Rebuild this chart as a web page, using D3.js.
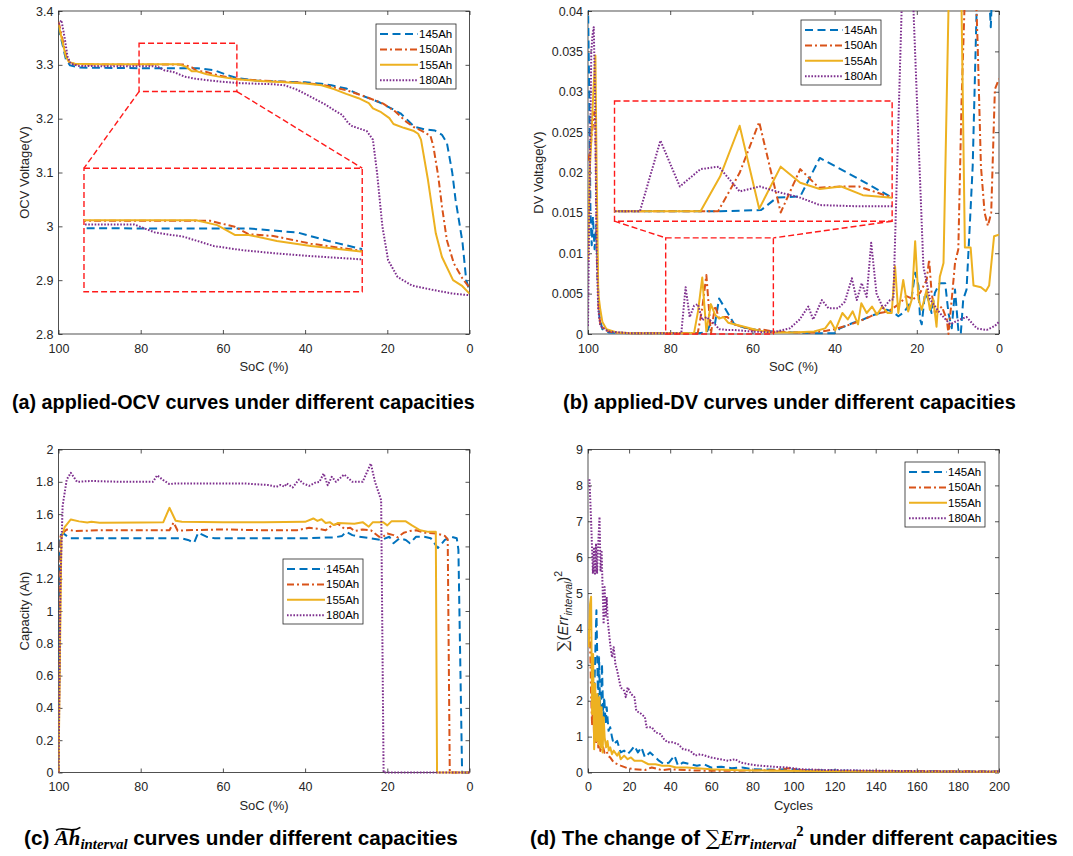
<!DOCTYPE html>
<html>
<head>
<meta charset="utf-8">
<script src="https://cdn.jsdelivr.net/npm/d3@7"></script>
<style>
  body { margin: 0; background: #fff; }
  svg text { font-family: "Liberation Sans", Arial, sans-serif; }
</style>
</head>
<body>
<svg id="fig" width="1073" height="856"></svg>
<script>
// ---- data ----
const capacities = ["145Ah", "150Ah", "155Ah", "180Ah"];

const socTicks = [100, 80, 60, 40, 20, 0];
const ocvTicks = [2.8, 2.9, 3, 3.1, 3.2, 3.3, 3.4];
const dvTicks = [0, 0.005, 0.01, 0.015, 0.02, 0.025, 0.03, 0.035, 0.04];
const ahTicks = [0, 0.2, 0.4, 0.6, 0.8, 1, 1.2, 1.4, 1.6, 1.8, 2];
const cycleTicks = [0, 20, 40, 60, 80, 100, 120, 140, 160, 180, 200];
const errTicks = [0, 1, 2, 3, 4, 5, 6, 7, 8, 9];

// (a) OCV, [SoC %, V]
const ocv145 = [[100,3.37],[99.4,3.35],[98.8,3.33],[98.2,3.31],[97.2,3.299],[95,3.295],[90,3.2945],[80,3.2938],[70,3.2936],[66.3,3.2936],[62.1,3.29],[59.5,3.2826],[56.5,3.2751],[52,3.271],[45,3.2685],[40,3.2675],[36,3.265],[33.6,3.262],[30,3.256],[26.9,3.245],[21.8,3.23],[16.8,3.21],[13.4,3.185],[10.9,3.18],[8.4,3.178],[6.7,3.17],[5.5,3.155],[4.2,3.1],[3.4,3.05],[1.7,2.97],[0.8,2.9],[0,2.881]];
const ocv150 = [[100,3.38],[99.4,3.36],[98.8,3.34],[98.2,3.318],[97.4,3.305],[96,3.301],[90,3.3005],[80,3.3004],[69.6,3.3004],[67.5,3.2951],[66.3,3.2885],[64.2,3.287],[61,3.2802],[56.5,3.2736],[50,3.2705],[45,3.2685],[40,3.2665],[35,3.2615],[30,3.253],[25,3.24],[21,3.228],[18,3.213],[15.5,3.195],[13.5,3.184],[11.5,3.177],[9.5,3.168],[8.8,3.149],[7.6,3.093],[6.7,3.037],[5.5,2.974],[3.8,2.931],[1.7,2.903],[0,2.886]];
const ocv155 = [[100,3.375],[99.4,3.355],[98.8,3.335],[98.2,3.315],[97.4,3.305],[96,3.302],[90,3.301],[80,3.301],[70.8,3.301],[69,3.2966],[67.5,3.2879],[66.3,3.2879],[63.9,3.2826],[61,3.2781],[56.5,3.273],[50,3.2695],[45,3.2675],[40,3.2655],[36,3.262],[33,3.255],[30,3.246],[27,3.238],[24.5,3.229],[23.5,3.219],[21.5,3.212],[19.5,3.201],[18.5,3.19],[16,3.183],[13.5,3.177],[12.5,3.172],[11.8,3.161],[10.1,3.086],[8.2,2.987],[6.7,2.943],[4,2.9],[1.9,2.89],[0,2.875]];
const ocv180 = [[100,3.375],[99.3,3.383],[98.5,3.35],[97.8,3.315],[97,3.302],[95,3.298],[90,3.2975],[80,3.2972],[76.1,3.2972],[74.3,3.29],[71.9,3.2864],[69.3,3.2781],[66.9,3.2745],[63.9,3.2715],[61,3.2692],[56.5,3.2662],[52,3.265],[48,3.264],[45,3.262],[42,3.254],[40,3.246],[37.5,3.236],[35,3.226],[33,3.216],[31,3.207],[29.5,3.192],[28.5,3.186],[25,3.177],[23.5,3.161],[22.5,3.1],[21.2,3.0],[19.8,2.937],[17.5,2.906],[14,2.89],[9,2.882],[4,2.875],[0,2.872]];

// (b) DV, [SoC %, V]
const dv145 = [[100,0.041],[99.7,0.03],[99.4,0.015],[99.1,0.011],[98.8,0.0145],[98.4,0.0105],[98,0.0135],[97.6,0.006],[97.2,0.002],[96.5,0.0006],[95,0.0002],[90,0.0001],[73.2,0.0001],[71.1,0.0002],[70.3,0.0012],[69.1,0.0013],[68.1,0.0044],[66.1,0.0027],[64.4,0.0012],[62,0.0008],[59,0.0005],[55,0.0003],[50,0.0002],[45,0.0001],[40,0.0001],[38.7,0.0007],[35.4,0.0014],[33,0.0018],[31.4,0.0022],[29,0.0026],[27.3,0.003],[26,0.0028],[24.5,0.0022],[23.1,0.0027],[21.4,0.004],[20.4,0.0076],[19.6,0.006],[19.2,0.0018],[18.8,0.0012],[18,0.0051],[17.2,0.0043],[16.4,0.0026],[15.6,0.0051],[14.4,0.0063],[13.1,0.0063],[12.3,0.0026],[11.5,0.0007],[10.7,0.0055],[9.9,0.0005],[9.3,0],[8.7,0.0043],[7.9,0.0055],[7.2,0.0125],[6.4,0.0208],[5.8,0.033],[5.2,0.045],[3,0.05],[2.4,0.042],[2,0.038],[1.5,0.045],[0,0.05]];
const dv150 = [[100,0.0215],[99.5,0.0225],[99,0.025],[98.5,0.0275],[98.2,0.026],[97.8,0.01],[97.4,0.003],[97,0.0012],[96,0.0005],[94,0.0002],[90,0.0001],[73.3,0.0001],[72.2,0.0032],[71.2,0.0073],[70.1,0],[69.1,0.0035],[68.15,0.002],[67,0.0021],[66.1,0.0021],[64.4,0.0012],[62,0.0008],[60,0.0005],[58,0.0006],[55,0.0003],[50,0.0002],[45,0.0002],[42,0.0004],[40,0.0006],[38,0.0009],[36,0.0012],[34,0.0016],[32,0.002],[30,0.0025],[28,0.0027],[26.3,0.003],[24.1,0.0038],[22.5,0.0047],[20.9,0.0043],[19.2,0.0051],[17.6,0.0067],[17,0.0092],[16.4,0.0051],[15.6,0.0026],[13.9,0.0034],[12.7,0.0018],[12.3,0],[11.5,0.0043],[10.7,0.0088],[9.9,0.0105],[9.1,0.029],[8.3,0.042],[7,0.055],[5.6,0.042],[5.2,0.036],[4.4,0.0208],[3.5,0.015],[2.7,0.0134],[1.9,0.015],[1,0.0303],[0,0.0316]];
const dv155 = [[100,0.009],[99.6,0.02],[99.2,0.024],[98.7,0.03],[98.2,0.0345],[97.9,0.02],[97.5,0.005],[97,0.003],[96.5,0.0015],[95.5,0.0006],[93,0.0002],[90,0.0001],[74.2,0.0001],[73.2,0.0029],[72.2,0.007],[71.2,0.0003],[70.1,0.0037],[69.1,0.0024],[68.1,0.0019],[67,0.0021],[65.9,0.0014],[64.4,0.0012],[62,0.0009],[59,0.0005],[56,0.0002],[50,0.0002],[45,0.0003],[42.3,0.0007],[41,0.0016],[39.8,0.0005],[38.1,0.0026],[36.8,0.0018],[35.6,0.0028],[34.3,0.0012],[33.5,0.0038],[32.2,0.0026],[30.9,0.0034],[29.7,0.0024],[28.4,0.0034],[27.1,0.0026],[26.1,0.0026],[25.3,0.0084],[24.5,0.0026],[23.3,0.0067],[22.1,0.0028],[21.2,0.0043],[20.4,0.0115],[19.6,0.0043],[18.8,0.003],[17.6,0.0055],[16.8,0.003],[16,0.0043],[15.2,0.0009],[14.4,0.0071],[13.5,0.0088],[12.3,0.04],[10.7,0.07],[9.1,0.04],[8.3,0.0107],[6.9,0.0107],[6.2,0.006],[4.4,0.0058],[3.2,0.0053],[2.4,0.006],[1.2,0.0121],[0,0.0123]];
const dv180 = [[100,0.001],[99.8,0.01],[99.5,0.022],[99.2,0.035],[98.9,0.037],[98.6,0.038],[98.3,0.03],[97.9,0.01],[97.5,0.003],[97,0.001],[95,0.0003],[90,0.0001],[77.3,0.0001],[76.25,0.0058],[75.26,0.0021],[74.2,0.0035],[73.27,0.0037],[72.2,0.0017],[71.17,0.0021],[70.1,0.0016],[69.1,0.0012],[68.1,0.0006],[66.1,0.0005],[64.4,0.0005],[60,0.0003],[55,0.0002],[50.9,0.0007],[48.5,0.0018],[46.4,0.0034],[45.2,0.0018],[43.1,0.0042],[41.5,0.0032],[39.1,0.0032],[37.5,0.004],[35.8,0.0069],[34.6,0.0042],[33.4,0.0063],[32.2,0.0046],[31.1,0.0113],[29.8,0.005],[28.2,0.0032],[26.5,0.0042],[25.7,0.0043],[23.7,0.04],[22,0.07],[20.8,0.04],[18.4,0.0084],[16.8,0.0043],[14.4,0.0026],[11.9,0.0012],[9.5,0.0018],[7.9,0.0021],[5.4,0.0007],[3,0.0005],[1,0.001],[0,0.0015]];

// (c) Ah interval, [SoC %, Ah]
const ah145 = [[100,0],[99.6,1.47],[98.8,1.48],[97.5,1.455],[97,1.45],[90,1.45],[80,1.45],[70,1.45],[68.5,1.44],[67,1.423],[66,1.485],[64,1.46],[62,1.45],[50,1.45],[40,1.45],[35,1.455],[33,1.455],[31,1.465],[30,1.49],[28.5,1.47],[27,1.46],[24,1.45],[21.5,1.44],[19.5,1.46],[18.5,1.42],[17,1.45],[15.5,1.44],[14.5,1.42],[13,1.46],[11,1.46],[9.4,1.45],[7.7,1.39],[6,1.44],[4.4,1.46],[3.1,1.45],[2.7,1.38],[1.8,0],[0,0]];
const ah150 = [[100,0],[99.5,1.47],[98,1.505],[96,1.495],[90,1.5],[80,1.5],[73,1.5],[72,1.548],[71,1.497],[69,1.5],[60,1.505],[50,1.5],[42,1.5],[39,1.515],[37,1.51],[35,1.5],[33.5,1.53],[32,1.54],[30.5,1.51],[29,1.515],[28,1.495],[26,1.505],[24,1.5],[22,1.46],[21,1.46],[20,1.48],[18.5,1.47],[17.5,1.456],[16,1.485],[14.5,1.495],[13,1.5],[11,1.485],[8,1.48],[6,1.465],[5.3,1.443],[4.8,0],[0,0]];
const ah155 = [[100,0],[99.3,1.45],[98.5,1.52],[97,1.567],[95,1.555],[93,1.548],[92,1.552],[90,1.547],[80,1.548],[74.5,1.55],[73,1.639],[71.5,1.559],[70,1.552],[60,1.55],[50,1.55],[40,1.552],[38,1.573],[37,1.558],[36,1.568],[35,1.545],[34,1.55],[33,1.532],[32,1.545],[28,1.54],[26,1.55],[24.5,1.522],[23.5,1.55],[21,1.55],[20,1.53],[19,1.555],[15.5,1.555],[14,1.53],[12,1.5],[10,1.49],[8.2,1.49],[7.9,0],[0,0]];
const ah180 = [[100,0],[99.5,1.2],[99,1.65],[98,1.814],[97,1.856],[95.5,1.8],[92,1.805],[85,1.8],[77,1.8],[76,1.84],[74.5,1.81],[73,1.786],[71.5,1.79],[55,1.79],[49,1.78],[47,1.769],[46,1.78],[45,1.77],[44.5,1.79],[43,1.765],[41.5,1.814],[40.5,1.79],[39,1.775],[37.5,1.795],[36.5,1.8],[35.5,1.851],[34.5,1.779],[33.5,1.831],[32.5,1.8],[30.5,1.845],[28.5,1.8],[26,1.8],[24,1.913],[23,1.8],[21.5,1.687],[20.9,0],[0,0]];

// (d) sum of squared interval errors, [cycle, value]
const err145 = [[2.5,2.3],[3.2,2.56],[4.1,4.52],[4.9,1.91],[5.4,3.21],[6.1,1.16],[6.8,3.03],[7.4,1.54],[7.9,2.1],[8.6,1.35],[9.1,1.82],[10,1.16],[10.8,1.26],[11.7,0.98],[12.5,0.79],[14.2,0.88],[15.9,0.56],[17.6,0.61],[19.3,0.51],[20.9,0.61],[22.6,0.74],[24.3,0.56],[26,0.7],[27.7,0.42],[30.2,0.56],[31.9,0.47],[34.5,0.33],[37,0.23],[39.5,0.28],[42.1,0.47],[43.8,0.19],[46.3,0.28],[49.7,0.23],[53,0.19],[56.4,0.23],[59.8,0.14],[64.9,0.16],[69.9,0.12],[75,0.14],[80,0.09],[90,0.08],[98.6,0.09],[107,0.065],[124,0.05],[141,0.04],[160,0.035],[175,0.03],[200,0.03]];
const err150 = [[0,3.54],[0.5,3.8],[1,3.7],[1.5,2.2],[2,1.3],[2.5,2],[3,0.9],[3.5,1.6],[4,0.8],[4.5,1.3],[5,0.7],[5.5,1.1],[6,0.6],[7,0.8],[8,0.55],[9,0.6],[10,0.45],[10.8,0.42],[12.5,0.28],[15.9,0.19],[19.3,0.12],[22.6,0.09],[27.7,0.07],[31,0.14],[36,0.065],[39.5,0.09],[48,0.065],[56.4,0.05],[73.3,0.05],[90.2,0.065],[97.8,0.12],[103.7,0.065],[124,0.04],[150,0.035],[200,0.03]];
const err155 = [[0.3,3.49],[1,4.7],[1.5,4.9],[2,1.63],[2.5,3.3],[3,0.65],[3.5,2.47],[4.1,0.88],[4.6,2.19],[5.1,0.79],[5.6,2.1],[6.1,0.7],[6.6,1.82],[7.1,0.56],[7.6,1.54],[8.1,0.98],[8.8,0.7],[9.5,0.88],[10.1,0.61],[10.8,0.7],[11.7,0.51],[12.5,0.61],[14.2,0.47],[15,0.56],[15.9,0.37],[17.6,0.47],[19.3,0.37],[20.9,0.42],[22.6,0.33],[26,0.33],[29.4,0.23],[32.8,0.23],[36.1,0.19],[39.5,0.19],[42.9,0.14],[48,0.14],[53,0.12],[59.8,0.09],[66.6,0.08],[73.3,0.065],[90.2,0.05],[107,0.04],[141,0.03],[200,0.02]];
const err180 = [[0.7,8.17],[1.5,7.03],[2.4,5.54],[2.9,6.28],[3.4,5.54],[3.9,6.38],[4.4,5.54],[4.9,6.28],[5.6,7.12],[6.1,5.63],[6.6,6.19],[7.1,5.17],[7.6,4.14],[8.1,5.17],[8.6,4.33],[9.1,4.89],[9.6,4.24],[10.1,3.96],[10.8,3.58],[11.7,3.21],[12.5,3.49],[13.3,3.03],[14.2,2.84],[15.9,2.37],[17.6,2.28],[18.4,2.1],[19.3,2.37],[20.9,2.19],[22.6,2.1],[23.5,1.72],[26,1.63],[27.7,1.54],[28.5,1.26],[31.1,1.26],[32.8,1.12],[35.3,1.07],[37,0.93],[38.7,0.84],[41.2,0.84],[43.8,0.79],[46.3,0.65],[49.7,0.61],[52.2,0.47],[54.7,0.51],[59.8,0.42],[64,0.37],[68.2,0.33],[71.6,0.37],[74.2,0.28],[78.4,0.23],[81.8,0.2],[90.2,0.16],[97,0.14],[103.7,0.09],[115.5,0.07],[124,0.065],[141,0.05],[157.8,0.04],[174.7,0.03],[200,0.03]];

// zoom insets: [x from, x to, y low, y high] in data units
const ocvZoomWindow = [80.4, 56.6, 3.2504, 3.34];
const ocvZoomFrame = [93.8, 26.1, 2.8784, 3.108];
const ocvZoomRange = [80.4, 56.6, 3.2376, 3.347];
const dvZoomWindow = [81.1, 54.9, 0, 0.0119];
const dvZoomFrame = [93.55, 26.0, 0.01397, 0.02886];
const dvZoomRange = [78.6, 64.4, -0.0007, 0.009];

// ---- styles ----
const colours = { "145Ah": "#0072BD", "150Ah": "#D95319", "155Ah": "#EDB120", "180Ah": "#7E2F8E" };
const dashes = { "145Ah": "8,4.5", "150Ah": "7,3,2,3", "155Ah": null, "180Ah": "1.6,1.6" };
const lineWidth = 2;
const axisColour = "#262626";
const serif = "'Liberation Serif', 'DejaVu Serif', serif";

const svg = d3.select("#fig");
const defs = svg.append("defs");

const line = (x, y) => d3.line().x(d => x(d[0])).y(d => y(d[1]));

const drawSeries = (g, x, y, list, clipId) => {
  list.forEach((data, i) => {
    const name = capacities[i];
    g.append("path")
      .datum(data)
      .attr("clip-path", `url(#${clipId})`)
      .attr("fill", "none")
      .attr("stroke", colours[name])
      .attr("stroke-width", lineWidth)
      .attr("stroke-dasharray", dashes[name])
      .attr("stroke-linejoin", "round")
      .attr("d", line(x, y));
  });
};

const styleAxis = sel => {
  sel.select(".domain").remove();
  sel.selectAll("line").attr("stroke", axisColour).attr("stroke-width", 0.8);
  sel.selectAll("text")
    .attr("fill", axisColour)
    .attr("font-size", 12.5)
    .attr("font-family", "'Liberation Sans', Arial, sans-serif");
};

const makePanel = p => {
  const x = d3.scaleLinear().domain(p.xDomain).range([p.left, p.right]);
  const y = d3.scaleLinear().domain(p.yDomain).range([p.bottom, p.top]);
  const g = svg.append("g").attr("class", `panel-${p.id}`);

  defs.append("clipPath").attr("id", `clip-${p.id}`)
    .append("rect")
    .attr("x", p.left).attr("y", p.top - 1)
    .attr("width", p.right - p.left).attr("height", p.bottom - p.top + 3);

  const fmt = d => String(d);
  g.append("g").attr("transform", `translate(0,${p.bottom})`)
    .call(d3.axisBottom(x).tickValues(p.xTicks).tickSizeInner(-4).tickSizeOuter(0).tickPadding(10).tickFormat(fmt))
    .call(styleAxis);
  g.append("g").attr("transform", `translate(0,${p.top})`)
    .call(d3.axisTop(x).tickValues(p.xTicks).tickSizeInner(-4).tickSizeOuter(0).tickFormat(""))
    .call(styleAxis);
  g.append("g").attr("transform", `translate(${p.left},0)`)
    .call(d3.axisLeft(y).tickValues(p.yTicks).tickSizeInner(-4).tickSizeOuter(0).tickPadding(5).tickFormat(fmt))
    .call(styleAxis);
  g.append("g").attr("transform", `translate(${p.right},0)`)
    .call(d3.axisRight(y).tickValues(p.yTicks).tickSizeInner(-4).tickSizeOuter(0).tickFormat(""))
    .call(styleAxis);

  g.append("rect")
    .attr("x", p.left).attr("y", p.top)
    .attr("width", p.right - p.left).attr("height", p.bottom - p.top)
    .attr("fill", "none").attr("stroke", axisColour).attr("stroke-width", 0.8);

  g.append("text")
    .attr("x", (p.left + p.right) / 2).attr("y", p.bottom + 37)
    .attr("text-anchor", "middle").attr("font-size", 13).attr("fill", axisColour)
    .text(p.xLabel);

  if (p.yLabel) {
    g.append("text")
      .attr("transform", `translate(${p.yLabelX},${(p.top + p.bottom) / 2}) rotate(-90)`)
      .attr("text-anchor", "middle").attr("font-size", 13).attr("fill", axisColour)
      .text(p.yLabel);
  }

  drawSeries(g, x, y, p.series, `clip-${p.id}`);
  return { g, x, y };
};

const drawLegend = (g, lx, ly) => {
  const lg = g.append("g").attr("class", "legend");
  lg.append("rect")
    .attr("x", lx).attr("y", ly).attr("width", 80).attr("height", 65)
    .attr("fill", "#fff").attr("stroke", axisColour).attr("stroke-width", 0.8);
  capacities.forEach((name, i) => {
    const cy = ly + 10 + i * 15.4;
    lg.append("line")
      .attr("x1", lx + 4).attr("x2", lx + 42).attr("y1", cy).attr("y2", cy)
      .attr("stroke", colours[name]).attr("stroke-width", lineWidth)
      .attr("stroke-dasharray", dashes[name]);
    lg.append("text")
      .attr("x", lx + 43).attr("y", cy + 4)
      .attr("font-size", 11.5).attr("fill", "#000")
      .text(name);
  });
};

const redDash = sel => sel.attr("fill", "none").attr("stroke", "#ff1a1a")
  .attr("stroke-width", 1.4).attr("stroke-dasharray", "6,3");

const drawZoom = (panel, id, win, frame, range, list, frameBelow) => {
  const { g, x, y } = panel;
  const box = b => ({ x0: x(b[0]), x1: x(b[1]), yLow: y(b[2]), yHigh: y(b[3]) });
  const w = box(win);
  const f = box(frame);

  g.append("rect").attr("x", w.x0).attr("y", w.yHigh)
    .attr("width", w.x1 - w.x0).attr("height", w.yLow - w.yHigh).call(redDash);
  g.append("rect").attr("x", f.x0).attr("y", f.yHigh)
    .attr("width", f.x1 - f.x0).attr("height", f.yLow - f.yHigh).call(redDash);

  const links = frameBelow
    ? [[w.x0, w.yLow, f.x0, f.yHigh], [w.x1, w.yLow, f.x1, f.yHigh]]
    : [[f.x0, f.yLow, w.x0, w.yHigh], [f.x1, f.yLow, w.x1, w.yHigh]];
  links.forEach(([ax, ay, bx, by]) => {
    g.append("line").attr("x1", ax).attr("y1", ay).attr("x2", bx).attr("y2", by).call(redDash);
  });

  const ix = d3.scaleLinear().domain([range[0], range[1]]).range([f.x0, f.x1]);
  const iy = d3.scaleLinear().domain([range[2], range[3]]).range([f.yLow, f.yHigh]);
  defs.append("clipPath").attr("id", `clip-${id}`)
    .append("rect").attr("x", f.x0).attr("y", f.yHigh)
    .attr("width", f.x1 - f.x0).attr("height", f.yLow - f.yHigh);
  drawSeries(g, ix, iy, list, `clip-${id}`);
};

// ---- panels ----
const pa = makePanel({
  id: "a", left: 58.5, right: 469.5, top: 11, bottom: 334,
  xDomain: [100, 0], yDomain: [2.8, 3.4], xTicks: socTicks, yTicks: ocvTicks,
  xLabel: "SoC (%)", yLabel: "OCV Voltage(V)", yLabelX: 29,
  series: [ocv145, ocv150, ocv155, ocv180]
});
drawZoom(pa, "za", ocvZoomWindow, ocvZoomFrame, ocvZoomRange, [ocv145, ocv150, ocv155, ocv180], true);
drawLegend(pa.g, 376, 24);

const pb = makePanel({
  id: "b", left: 588, right: 999, top: 11, bottom: 334,
  xDomain: [100, 0], yDomain: [0, 0.04], xTicks: socTicks, yTicks: dvTicks,
  xLabel: "SoC (%)", yLabel: "DV Voltage(V)", yLabelX: 543,
  series: [dv145, dv150, dv155, dv180]
});
drawZoom(pb, "zb", dvZoomWindow, dvZoomFrame, dvZoomRange, [dv145, dv150, dv155, dv180], false);
drawLegend(pb.g, 801, 20);

const pc = makePanel({
  id: "c", left: 58.5, right: 469.5, top: 449.5, bottom: 772.5,
  xDomain: [100, 0], yDomain: [0, 2], xTicks: socTicks, yTicks: ahTicks,
  xLabel: "SoC (%)", yLabel: "Capacity (Ah)", yLabelX: 29,
  series: [ah145, ah150, ah155, ah180]
});
drawLegend(pc.g, 283, 559);

const pd = makePanel({
  id: "d", left: 588, right: 999, top: 449.5, bottom: 772.5,
  xDomain: [0, 200], yDomain: [0, 9], xTicks: cycleTicks, yTicks: errTicks,
  xLabel: "Cycles", yLabel: null,
  series: [err145, err150, err155, err180]
});
drawLegend(pd.g, 905, 462);

// y label of (d): sum of (Err_interval)^2
const yl = pd.g.append("text")
  .attr("transform", `translate(568,611) rotate(-90)`)
  .attr("text-anchor", "middle").attr("font-size", 15).attr("fill", axisColour)
  .attr("font-family", serif);
yl.append("tspan").attr("font-family", "'DejaVu Serif', serif").text("\u2211");
yl.append("tspan").text("(");
yl.append("tspan").attr("font-style", "italic").text("Err");
yl.append("tspan").attr("font-style", "italic").attr("font-size", "0.7em").attr("dy", "0.35em").text("interval");
yl.append("tspan").attr("dy", "-0.245em").text(")");
yl.append("tspan").attr("font-size", "0.7em").attr("dy", "-0.55em").text("2");

// ---- captions ----
const caption = (x0, x1, base, build) => {
  const t = svg.append("text")
    .attr("x", x0).attr("y", base)
    .attr("font-size", 16).attr("font-weight", "bold").attr("fill", "#000");
  build(t);
  const len = t.node().getComputedTextLength();
  t.attr("font-size", 16 * (x1 - x0) / len);
  return t;
};

caption(12, 475, 409, t => t.text("(a) applied-OCV curves under different capacities"));
caption(563, 1016, 409, t => t.text("(b) applied-DV curves under different capacities"));

const capC = caption(24, 458, 845, t => {
  t.append("tspan").text("(c) ");
  t.append("tspan").attr("font-family", serif).attr("font-style", "italic").text("Ah");
  t.append("tspan").attr("font-family", serif).attr("font-style", "italic")
    .attr("font-size", "0.72em").attr("dy", "0.3em").text("interval");
  t.append("tspan").attr("dy", "-0.216em").text(" curves under different capacities");
});
{
  const n = capC.node();
  const a = n.getStartPositionOfChar(4);
  const h = n.getEndPositionOfChar(5);
  const fs = parseFloat(capC.attr("font-size"));
  const ty = 845 - fs * 0.78;
  const w = h.x - a.x;
  svg.append("path")
    .attr("d", `M${a.x + 1},${ty + 1.5} C${a.x + w * 0.3},${ty - 3.5} ${a.x + w * 0.65},${ty + 5} ${h.x},${ty - 1.5}`)
    .attr("fill", "none").attr("stroke", "#000").attr("stroke-width", 1.6);
}

caption(530, 1058, 845, t => {
  t.append("tspan").text("(d) The change of ");
  t.append("tspan").attr("font-family", "'DejaVu Serif', serif").attr("font-weight", "normal").text("\u2211");
  t.append("tspan").attr("font-family", serif).attr("font-style", "italic").text("Err");
  t.append("tspan").attr("font-family", serif).attr("font-style", "italic")
    .attr("font-size", "0.72em").attr("dy", "0.3em").text("interval");
  t.append("tspan").attr("font-family", serif).attr("font-size", "0.72em").attr("dy", "-0.925em").text("2");
  t.append("tspan").attr("dy", "0.45em").text(" under different capacities");
});
</script>
</body>
</html>
